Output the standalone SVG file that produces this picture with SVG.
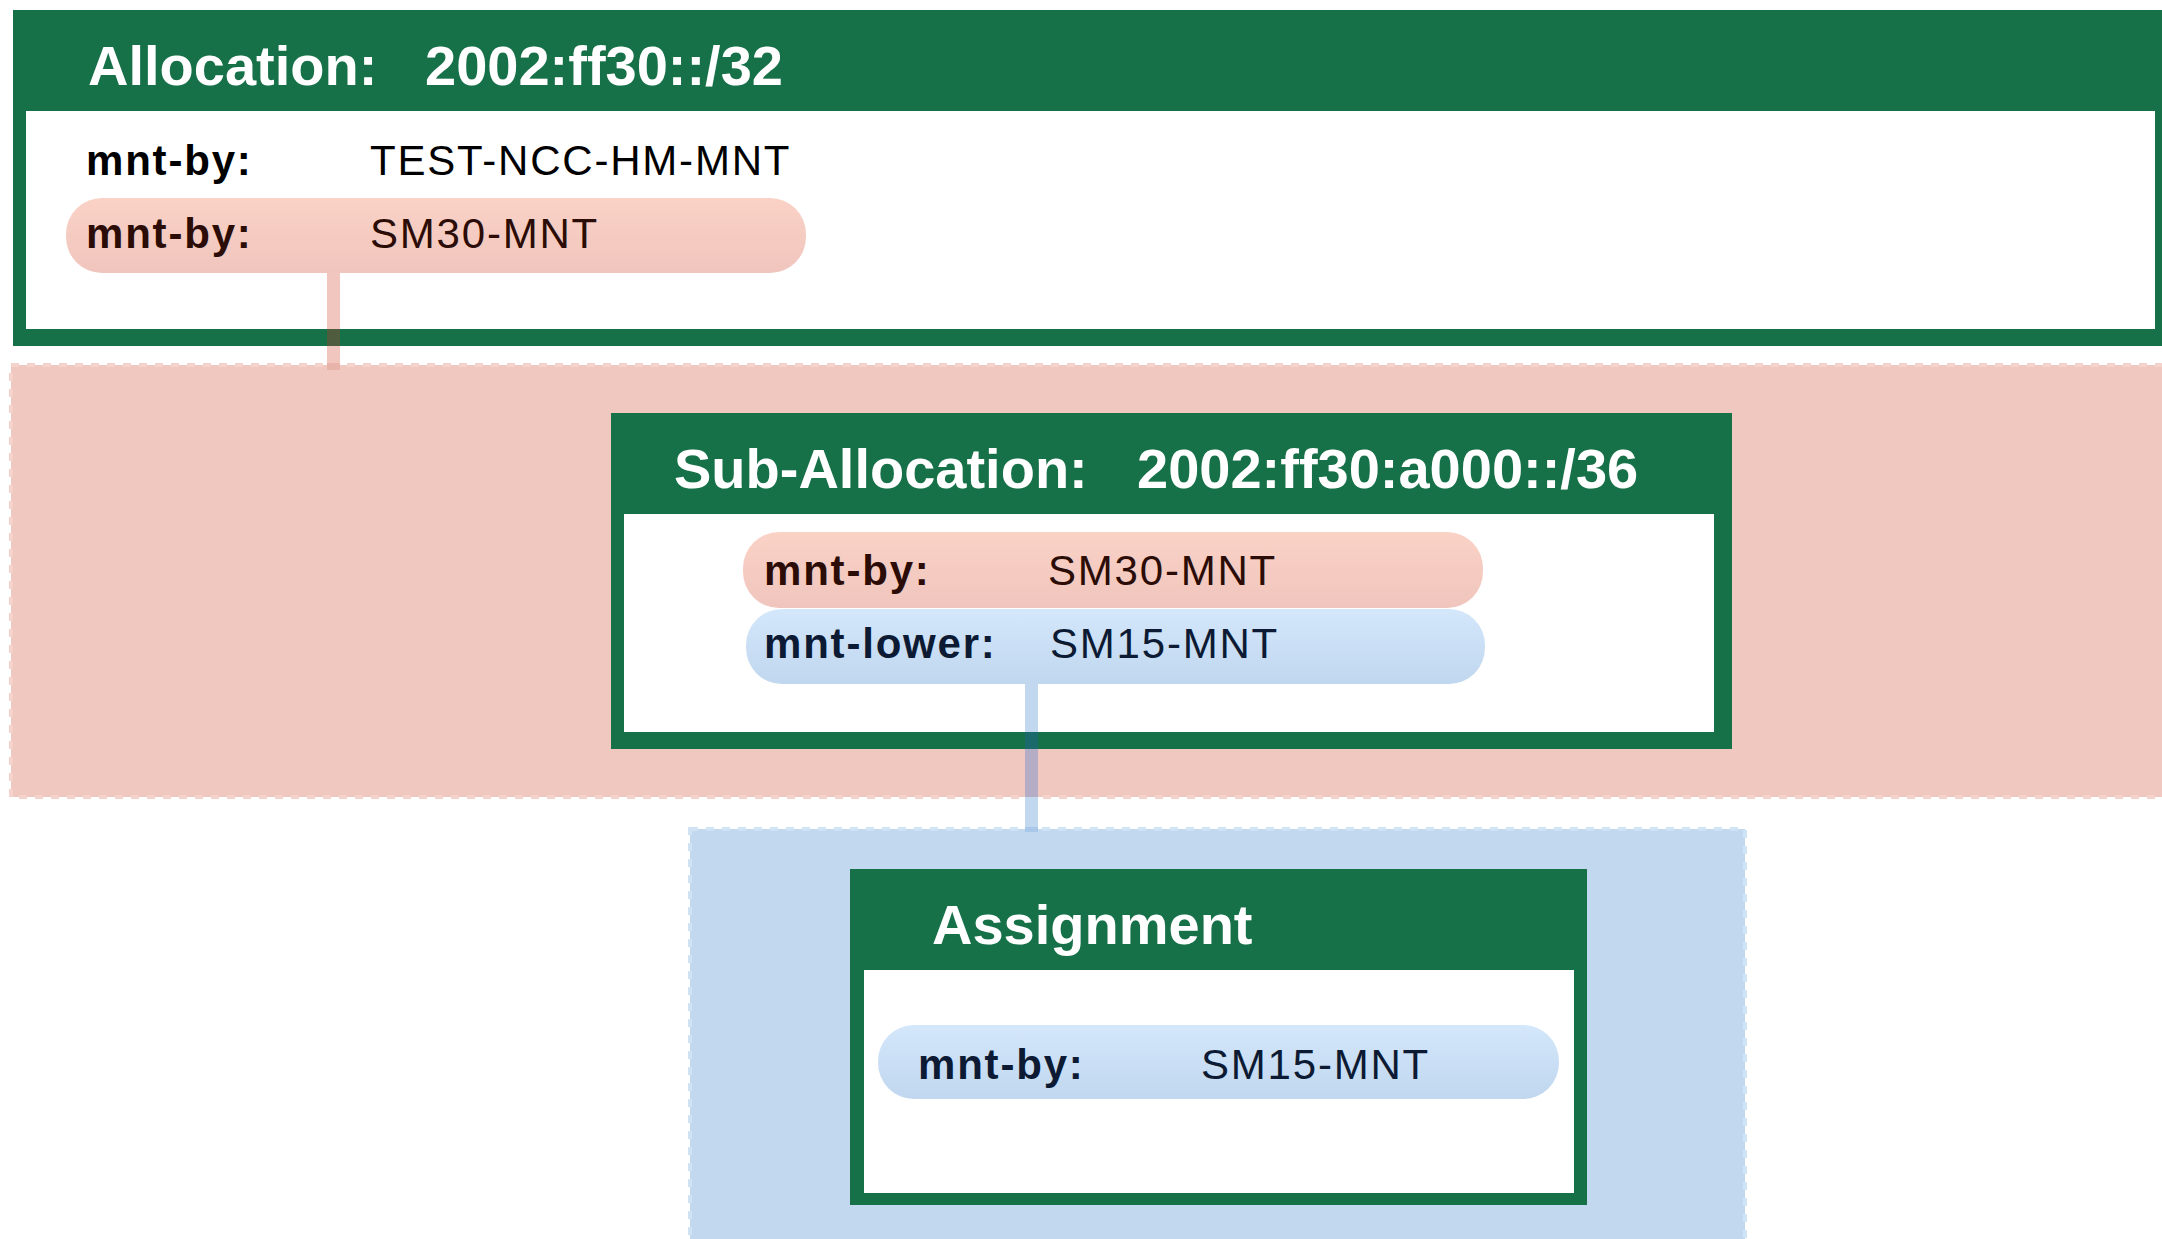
<svg xmlns="http://www.w3.org/2000/svg" width="2162" height="1239" viewBox="0 0 2162 1239">
  <style>
    .frame { fill: #167048; }
    .inner { fill: #ffffff; }
    .title { font-family: "Liberation Sans", Arial, sans-serif; font-weight: bold; font-size: 56px; fill: #ffffff; }
    .lbl { font-family: "Liberation Sans", Arial, sans-serif; font-weight: bold; font-size: 42px; letter-spacing: 1.8px; }
    .val { font-family: "Liberation Sans", Arial, sans-serif; font-size: 42px; letter-spacing: 1.8px; }
    .plain { fill: #000000; }
    .pinkt { fill: #2b0c06; }
    .bluet { fill: #0c1a33; }
    .pinkRegion { fill: #f0c8c0; stroke: #f4d3cd; stroke-width: 4; stroke-dasharray: 8 8; }
    .blueRegion { fill: #c1d8ee; stroke: #d0e3f5; stroke-width: 4; stroke-dasharray: 8 8; }
  </style>
  <defs>
    <linearGradient id="gPink" x1="0" y1="0" x2="0" y2="1">
      <stop offset="0" stop-color="#fbd2c6"/>
      <stop offset="1" stop-color="#efc5bd"/>
    </linearGradient>
    <linearGradient id="gBlue" x1="0" y1="0" x2="0" y2="1">
      <stop offset="0" stop-color="#d4e7fb"/>
      <stop offset="1" stop-color="#c0d7ef"/>
    </linearGradient>
  </defs>
  <rect width="2162" height="1239" fill="#ffffff"/>

  <!-- scope regions -->
  <g id="region-sm30">
    <rect class="pinkRegion" x="11" y="365" width="2200" height="432"/>
  </g>
  <g id="region-sm15">
    <rect class="blueRegion" x="690" y="829" width="1055" height="460"/>
  </g>

  <!-- Allocation -->
  <g id="node-allocation">
    <rect class="frame" x="13" y="10" width="2160" height="336"/>
    <rect class="inner" x="26" y="111" width="2129" height="218"/>
    <text class="title" x="88" y="85">Allocation:</text>
    <text class="title" x="425" y="85">2002:ff30::/32</text>
    <text class="lbl plain" x="86" y="175">mnt-by:</text>
    <text class="val plain" x="370" y="175">TEST-NCC-HM-MNT</text>
    <rect x="66" y="198" width="740" height="75" rx="36" ry="36" fill="url(#gPink)"/>
    <text class="lbl pinkt" x="86" y="248">mnt-by:</text>
    <text class="val pinkt" x="370" y="248">SM30-MNT</text>
  </g>

  <!-- Sub-Allocation -->
  <g id="node-suballocation">
    <rect class="frame" x="611" y="413" width="1121" height="336"/>
    <rect class="inner" x="624" y="514" width="1090" height="218"/>
    <text class="title" x="674" y="488">Sub-Allocation:</text>
    <text class="title" x="1137" y="488">2002:ff30:a000::/36</text>
    <rect x="743" y="532" width="740" height="76" rx="36" ry="36" fill="url(#gPink)"/>
    <text class="lbl pinkt" x="764" y="585">mnt-by:</text>
    <text class="val pinkt" x="1048" y="585">SM30-MNT</text>
    <rect x="746" y="609" width="739" height="75" rx="36" ry="36" fill="url(#gBlue)"/>
    <text class="lbl bluet" x="764" y="658">mnt-lower:</text>
    <text class="val bluet" x="1050" y="658">SM15-MNT</text>
  </g>

  <!-- Assignment -->
  <g id="node-assignment">
    <rect class="frame" x="850" y="869" width="737" height="336"/>
    <rect class="inner" x="864" y="970" width="710" height="223"/>
    <text class="title" x="932" y="944">Assignment</text>
    <rect x="878" y="1025" width="681" height="74" rx="36" ry="36" fill="url(#gBlue)"/>
    <text class="lbl bluet" x="918" y="1079">mnt-by:</text>
    <text class="val bluet" x="1201" y="1079">SM15-MNT</text>
  </g>

  <!-- connectors -->
  <g id="connectors">
    <rect x="327" y="273" width="13" height="97" fill="#f0c6be"/>
    <rect x="327" y="329" width="13" height="17" fill="#505c3e"/>
    <rect x="327" y="363" width="13" height="7" fill="#e8b4aa"/>
    <rect x="1025" y="684" width="13" height="148" fill="#c1d8ee"/>
    <rect x="1025" y="732" width="13" height="17" fill="#1a6a6c"/>
    <rect x="1025" y="749" width="13" height="48" fill="#b5acc5"/>
    <rect x="1025" y="827" width="13" height="5" fill="#a9c7e8"/>
  </g>
</svg>
